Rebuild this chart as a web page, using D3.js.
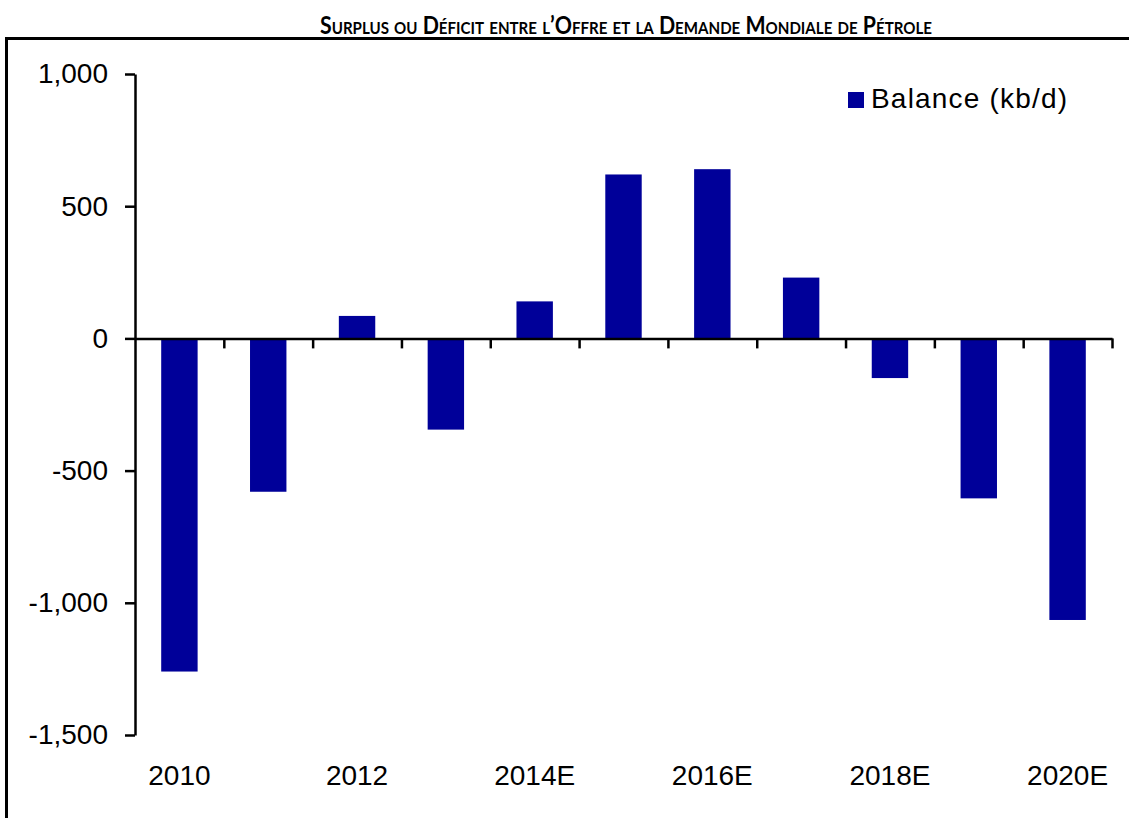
<!DOCTYPE html>
<html>
<head>
<meta charset="utf-8">
<script src="https://cdn.jsdelivr.net/npm/d3@7"></script>
<style>
  body { margin: 0; background: #fff; }
  svg { display: block; }
</style>
</head>
<body>
<div class="canvas"></div>
<script>
// data
const years = ['2010', '2011', '2012', '2013', '2014E', '2015E', '2016E', '2017E', '2018E', '2019E', '2020E'];
const balance = [-1260, -580, 85, -345, 140, 620, 640, 230, -150, -605, -1065];
const yTicks = [-1500, -1000, -500, 0, 500, 1000];
const xLabels = ['2010', '2012', '2014E', '2016E', '2018E', '2020E'];
const seriesName = 'Balance (kb/d)';
const title = 'Surplus ou Déficit entre l’Offre et la Demande Mondiale de Pétrole';

const data = years.map((d, i) => ({year: d, value: balance[i]}));

const svg = d3.select('.canvas')
  .append('svg')
    .attr('width', 1129)
    .attr('height', 818);

// title in small caps
svg.append('text')
  .attr('x', 626)
  .attr('y', 34)
  .attr('text-anchor', 'middle')
  .attr('font-family', 'Lato, "Open Sans", sans-serif')
  .attr('font-weight', 'bold')
  .attr('font-size', 24)
  .style('font-variant', 'small-caps')
  .attr('textLength', 612)
  .attr('lengthAdjust', 'spacingAndGlyphs')
  .text(title);

// frame (open on the right and bottom)
svg.append('path')
  .attr('d', 'M6.5,818V38.5H1129')
  .attr('fill', 'none')
  .attr('stroke', '#000')
  .attr('stroke-width', 3);

// plot area
const plot = {left: 135, right: 1112, top: 74, bottom: 735};

const y = d3.scaleLinear()
  .domain([-1500, 1000])
  .range([plot.bottom, plot.top]);

const x = d3.scaleBand()
  .domain(years)
  .range([plot.left, plot.right])
  .paddingInner(0.59)
  .paddingOuter(0.295);

const edge = d3.scaleLinear()
  .domain([0, years.length])
  .range([plot.left, plot.right]);

const font = '"Liberation Sans", Arial, sans-serif';
const fmt = d3.format(',');

// bars
svg.append('g')
  .selectAll('rect')
  .data(data)
  .enter()
  .append('rect')
    .attr('x', d => x(d.year))
    .attr('width', x.bandwidth())
    .attr('y', d => y(Math.max(0, d.value)))
    .attr('height', d => Math.abs(y(d.value) - y(0)))
    .attr('fill', '#000099');

// y axis (plain hyphen for negatives)
const yAxisGroup = svg.append('g')
  .attr('transform', `translate(${plot.left},0)`)
  .call(d3.axisLeft(y)
    .tickValues(yTicks)
    .tickSize(10)
    .tickSizeOuter(0)
    .tickPadding(17)
    .tickFormat(d => fmt(d).replace('−', '-')));

// x axis at zero with ticks between categories
const xAxisGroup = svg.append('g')
  .attr('transform', `translate(0,${y(0)})`)
  .call(d3.axisBottom(edge)
    .tickValues(d3.range(1, years.length + 1))
    .tickSize(10)
    .tickSizeOuter(0)
    .tickFormat(''));

// category labels along the bottom
const labelGroup = svg.append('g')
  .attr('transform', 'translate(0,775)')
  .call(d3.axisBottom(x)
    .tickValues(xLabels)
    .tickSize(0)
    .tickPadding(0));
labelGroup.select('.domain').remove();

[yAxisGroup, xAxisGroup].forEach(g => {
  g.selectAll('path, line').attr('stroke', '#000').attr('stroke-width', 2.5);
});

svg.selectAll('.tick text')
  .attr('font-family', font)
  .attr('font-size', 28)
  .attr('fill', '#000');

labelGroup.selectAll('text').attr('dy', '0.35em');

// legend
const legend = svg.append('g')
  .attr('transform', 'translate(848,92)');

legend.append('rect')
  .attr('width', 16)
  .attr('height', 16)
  .attr('fill', '#000099');

legend.append('text')
  .attr('x', 23)
  .attr('y', 16)
  .attr('font-family', font)
  .attr('font-size', 28)
  .attr('textLength', 196)
  .attr('lengthAdjust', 'spacing')
  .text(seriesName);
</script>
</body>
</html>
